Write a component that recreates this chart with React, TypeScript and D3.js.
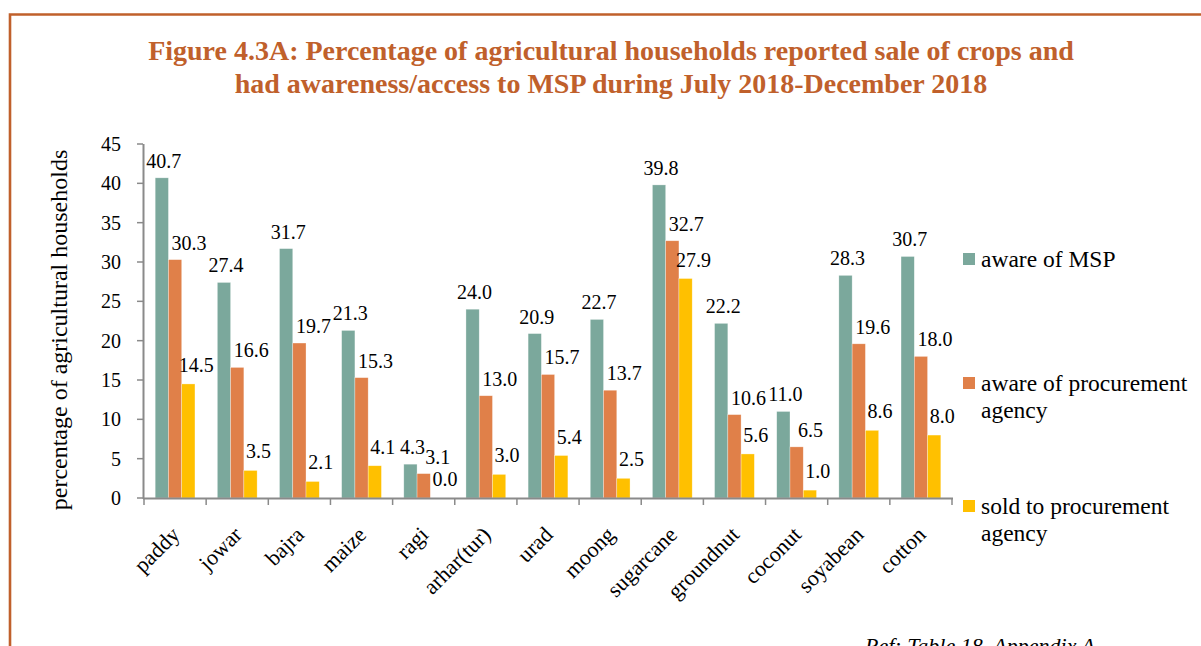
import React from "react";
import * as d3 from "d3";

const categories = ["paddy","jowar","bajra","maize","ragi","arhar(tur)","urad","moong","sugarcane","groundnut","coconut","soyabean","cotton"];
const awareMSP = [40.7,27.4,31.7,21.3,4.3,24.0,20.9,22.7,39.8,22.2,11.0,28.3,30.7];
const awareAgency = [30.3,16.6,19.7,15.3,3.1,13.0,15.7,13.7,32.7,10.6,6.5,19.6,18.0];
const soldAgency = [14.5,3.5,2.1,4.1,0.0,3.0,5.4,2.5,27.9,5.6,1.0,8.6,8.0];
const yTicks = [0,5,10,15,20,25,30,35,40,45];
const seriesNames = ["aware of MSP","aware of procurement agency","sold to procurement agency"];
const legendLines = [["aware of MSP"],["aware of procurement","agency"],["sold to procurement","agency"]];
const colors = ["#7BA89C","#E08049","#FFC000"];
const titleLines = [
  "Figure 4.3A: Percentage of agricultural households reported sale of crops and",
  "had awareness/access to MSP during July 2018-December 2018",
];

const W = 1201, H = 646;
const FONT = "'Liberation Serif','Times New Roman',serif";

export default function App() {
  const series = [awareMSP, awareAgency, soldAgency];
  const x0 = d3.scaleBand<string>().domain(categories).range([144, 952]).padding(0);
  const bw = x0.bandwidth();
  const x1 = d3.scaleBand<number>().domain([0,1,2]).range([bw*0.18, bw*0.82]).padding(0);
  const y = d3.scaleLinear().domain([0,45]).range([498,144]);
  const labelDx = [2, 14, 8];
  const labelDy = [-10, -10, -12];
  const axisColor = "#8A8A8A";

  return (
    <svg width={W} height={H} style={{position:"absolute", left:0, top:0, background:"#fff"}} fontFamily={FONT}>
      <rect x={0} y={0} width={W} height={H} fill="#fff"/>
      {/* frame */}
      <path d={`M10,${H+5} L10,14.5 L${W+5},14.5`} fill="none" stroke="#C0602B" strokeWidth={2.6}/>
      {/* title */}
      {titleLines.map((t,i)=>(
        <text key={i} x={611} y={60+i*33} textAnchor="middle" fontWeight="bold" fontSize={28} fill="#C0602B">{t}</text>
      ))}
      {/* bars */}
      {categories.map((c,ci)=>(
        <g key={c} transform={`translate(${x0(c)},0)`}>
          {series.map((s,si)=>(
            <rect key={si} x={x1(si)} y={y(s[ci])} width={x1.bandwidth()} height={y(0)-y(s[ci])}
              fill={colors[si]} stroke="#fff" strokeOpacity={0.5} strokeWidth={0.6}/>
          ))}
        </g>
      ))}
      {/* labels */}
      {categories.map((c,ci)=>(
        <g key={"l"+c}>
          {series.map((s,si)=>(
            <text key={si} x={(x0(c) as number)+(x1(si) as number)+x1.bandwidth()/2+labelDx[si]} y={y(s[ci])+labelDy[si]}
              textAnchor="middle" fontSize={20} fill="#000">{s[ci].toFixed(1)}</text>
          ))}
        </g>
      ))}
      {/* y axis */}
      <line x1={143.5} x2={143.5} y1={y(45)} y2={y(0)+1} stroke={axisColor} strokeWidth={2}/>
      {yTicks.map(t=>(
        <g key={t}>
          <line x1={137} x2={143} y1={y(t)} y2={y(t)} stroke={axisColor} strokeWidth={1.5}/>
          <text x={121} y={y(t)+7} textAnchor="end" fontSize={20} fill="#000">{t}</text>
        </g>
      ))}
      <text transform={`translate(67,${330}) rotate(-90)`} textAnchor="middle" fontSize={24} fill="#000">percentage of agricultural households</text>
      {/* x axis */}
      <line x1={143} x2={953} y1={498.5} y2={498.5} stroke={axisColor} strokeWidth={2}/>
      {d3.range(categories.length+1).map(i=>(
        <line key={i} x1={144+i*bw} x2={144+i*bw} y1={498} y2={505} stroke={axisColor} strokeWidth={1.5}/>
      ))}
      {categories.map(c=>(
        <text key={"x"+c} transform={`translate(${(x0(c) as number)+bw/2+6},${536}) rotate(-45)`} textAnchor="end" fontSize={22} fill="#000">{c}</text>
      ))}
      {/* legend */}
      {seriesNames.map((n,i)=>{
        const top = [253,377,500][i];
        return (
          <g key={n}>
            <rect x={963} y={top} width={12} height={12} fill={colors[i]}/>
            {legendLines[i].map((l,li)=>(
              <text key={li} x={981} y={top+14+li*27} fontSize={23.5} fill="#000">{l}</text>
            ))}
          </g>
        );
      })}
      <text x={865} y={653} fontSize={22} fontStyle="italic" fill="#000">Ref: Table 18, Appendix A</text>
    </svg>
  );
}
